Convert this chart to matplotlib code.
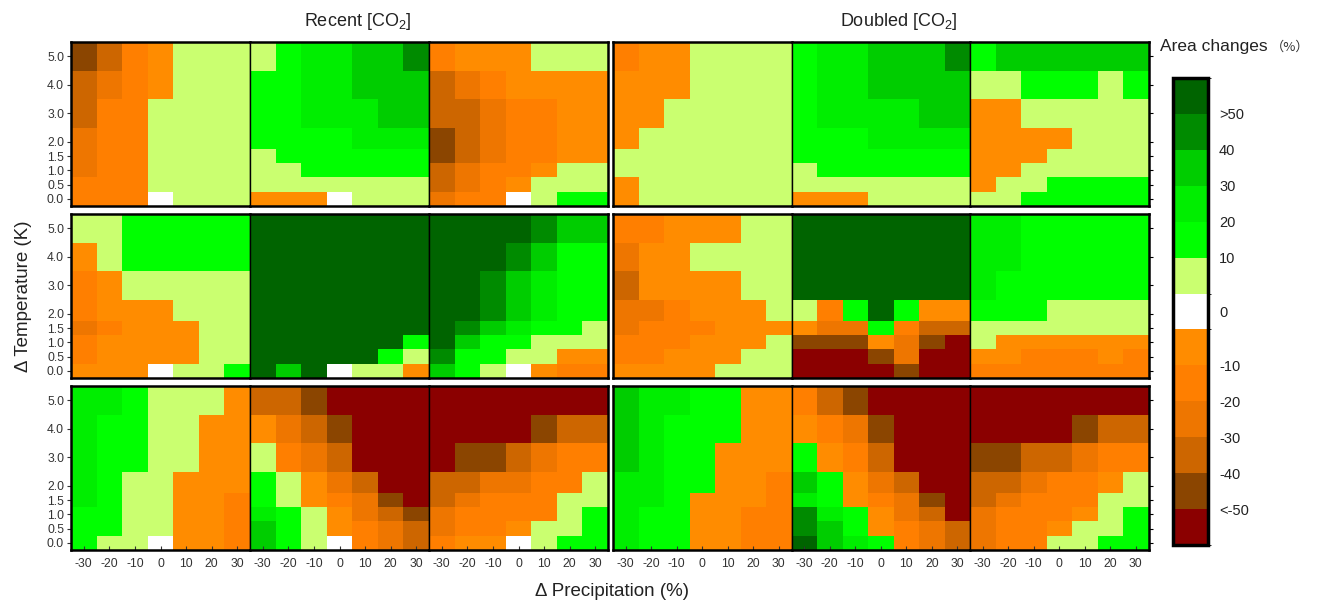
import numpy as np
import matplotlib
matplotlib.use("Agg")
import matplotlib.pyplot as plt
from matplotlib.colors import ListedColormap, BoundaryNorm
from matplotlib.cm import ScalarMappable

plt.rcParams['font.family'] = ['Liberation Sans', 'DejaVu Sans']
plt.rcParams['mathtext.fontset'] = 'custom'
plt.rcParams['mathtext.rm'] = 'Liberation Sans'
plt.rcParams['mathtext.it'] = 'Liberation Sans'

# ---------------- data ----------------
precip = [-30, -20, -10, 0, 10, 20, 30]                 # columns (%)
temps = [5.0, 4.0, 3.0, 2.0, 1.5, 1.0, 0.5, 0.0]        # rows, top -> bottom (K)
temp_ticklabels = ['5.0', '4.0', '3.0', '2.0', '1.5', '1.0', '0.5', '0.0']
precip_ticklabels = ['-30', '-20', '-10', '0', '10', '20', '30']
block_titles = ['Recent [CO$_{2}$]', 'Doubled [CO$_{2}$]']

# colour classes (area change, %)
cbar_bounds = [-100, -50, -40, -30, -20, -10, -0.5, 0.5, 10, 20, 30, 40, 50, 100]
cbar_colors = ['#8B0000', '#8B4500', '#CD6600', '#EE7600', '#FF7F00', '#FF8C00',
               '#FFFFFF',
               '#CAFF70', '#00FF00', '#00EE00', '#00CD00', '#008B00', '#006400']
cbar_ticks = [50, 40, 30, 20, 10, 0, -10, -20, -30, -40, -50]
cbar_ticklabels = ['>50', '40', '30', '20', '10', '0', '-10', '-20', '-30', '-40', '<-50']

# area change per cell (rows top->bottom = temps, cols = precip)
recent_r1_a = [[-45, -35, -15, -5, 5, 5, 5],
               [-35, -25, -15, -5, 5, 5, 5],
               [-35, -15, -15, 5, 5, 5, 5],
               [-25, -15, -15, 5, 5, 5, 5],
               [-25, -15, -15, 5, 5, 5, 5],
               [-25, -15, -15, 5, 5, 5, 5],
               [-15, -15, -15, 5, 5, 5, 5],
               [-15, -15, -15, 0, 5, 5, 5]]
recent_r1_b = [[5, 15, 25, 25, 35, 35, 45],
               [15, 15, 25, 25, 35, 35, 35],
               [15, 15, 25, 25, 25, 35, 35],
               [15, 15, 15, 15, 25, 25, 25],
               [5, 15, 15, 15, 15, 15, 15],
               [5, 5, 15, 15, 15, 15, 15],
               [5, 5, 5, 5, 5, 5, 5],
               [-5, -5, -5, 0, 5, 5, 5]]
recent_r1_c = [[-15, -5, -5, -5, 5, 5, 5],
               [-35, -25, -15, -5, -5, -5, -5],
               [-35, -35, -25, -15, -15, -5, -5],
               [-45, -35, -25, -15, -15, -5, -5],
               [-45, -35, -25, -15, -15, -5, -5],
               [-35, -25, -15, -15, -5, 5, 5],
               [-35, -25, -15, -5, 5, 5, 5],
               [-25, -15, -15, 0, 5, 15, 15]]
doubled_r1_a = [[-15, -5, -5, 5, 5, 5, 5],
                [-5, -5, -5, 5, 5, 5, 5],
                [-5, -5, 5, 5, 5, 5, 5],
                [-5, 5, 5, 5, 5, 5, 5],
                [5, 5, 5, 5, 5, 5, 5],
                [5, 5, 5, 5, 5, 5, 5],
                [-5, 5, 5, 5, 5, 5, 5],
                [-5, 5, 5, 5, 5, 5, 5]]
doubled_r1_b = [[15, 25, 25, 35, 35, 35, 45],
                [15, 25, 25, 35, 35, 35, 35],
                [15, 25, 25, 25, 25, 35, 35],
                [15, 15, 15, 25, 25, 25, 25],
                [15, 15, 15, 15, 15, 15, 15],
                [5, 15, 15, 15, 15, 15, 15],
                [5, 5, 5, 5, 5, 5, 5],
                [-5, -5, -5, 5, 5, 5, 5]]
doubled_r1_c = [[15, 35, 35, 35, 35, 35, 35],
                [5, 5, 15, 15, 15, 5, 15],
                [-5, -5, 5, 5, 5, 5, 5],
                [-5, -5, -5, -5, 5, 5, 5],
                [-5, -5, -5, 5, 5, 5, 5],
                [-5, -5, 5, 5, 5, 5, 5],
                [-5, 5, 5, 15, 15, 15, 15],
                [5, 5, 15, 15, 15, 15, 15]]

recent_r2_a = [[5, 5, 15, 15, 15, 15, 15],
               [-5, 5, 15, 15, 15, 15, 15],
               [-15, -5, 5, 5, 5, 5, 5],
               [-15, -5, -5, -5, 5, 5, 5],
               [-25, -15, -5, -5, -5, 5, 5],
               [-15, -5, -5, -5, -5, 5, 5],
               [-15, -5, -5, -5, -5, 5, 5],
               [-5, -5, -5, 0, 5, 5, 15]]
recent_r2_b = [[60, 60, 60, 60, 60, 60, 60],
               [60, 60, 60, 60, 60, 60, 60],
               [60, 60, 60, 60, 60, 60, 60],
               [60, 60, 60, 60, 60, 60, 60],
               [60, 60, 60, 60, 60, 60, 60],
               [60, 60, 60, 60, 60, 60, 15],
               [60, 60, 60, 60, 60, 15, 5],
               [60, 35, 60, 0, 5, 5, -5]]
recent_r2_c = [[60, 60, 60, 60, 45, 35, 35],
               [60, 60, 60, 45, 35, 15, 15],
               [60, 60, 45, 35, 25, 15, 15],
               [60, 60, 45, 35, 25, 15, 15],
               [60, 45, 35, 25, 15, 15, 5],
               [60, 35, 15, 15, 5, 5, 5],
               [45, 15, 15, 5, 5, -5, -5],
               [35, 15, 5, 0, -5, -15, -15]]
doubled_r2_a = [[-15, -15, -5, -5, -5, 5, 5],
                [-25, -5, -5, 5, 5, 5, 5],
                [-35, -5, -5, -5, -5, 5, 5],
                [-25, -25, -15, -5, -5, -5, 5],
                [-25, -15, -15, -15, -5, -5, -5],
                [-15, -15, -15, -5, -5, -5, 5],
                [-15, -15, -5, -5, -5, 5, 5],
                [-5, -5, -5, -5, 5, 5, 5]]
doubled_r2_b = [[60, 60, 60, 60, 60, 60, 60],
                [60, 60, 60, 60, 60, 60, 60],
                [60, 60, 60, 60, 60, 60, 60],
                [5, -15, 15, 60, 15, -5, -5],
                [-5, -25, -25, 15, -15, -35, -35],
                [-45, -45, -45, -5, -25, -45, -60],
                [-60, -60, -60, -45, -25, -60, -60],
                [-60, -60, -60, -60, -45, -60, -60]]
doubled_r2_c = [[25, 25, 15, 15, 15, 15, 15],
                [25, 25, 15, 15, 15, 15, 15],
                [25, 15, 15, 15, 15, 15, 15],
                [15, 15, 15, 5, 5, 5, 5],
                [5, 5, 5, 5, 5, 5, 5],
                [5, -5, -5, -5, -5, -5, -5],
                [-5, -5, -15, -15, -15, -5, -15],
                [-15, -15, -15, -15, -15, -15, -15]]

recent_r3_a = [[25, 25, 15, 5, 5, 5, -5],
               [25, 15, 15, 5, 5, -5, -5],
               [25, 15, 15, 5, 5, -5, -5],
               [25, 15, 5, 5, -5, -5, -5],
               [25, 15, 5, 5, -5, -5, -15],
               [15, 15, 5, 5, -5, -5, -15],
               [15, 15, 5, 5, -5, -5, -15],
               [15, 5, 5, 0, -5, -5, -15]]
recent_r3_b = [[-35, -35, -45, -60, -60, -60, -60],
               [-5, -25, -35, -45, -60, -60, -60],
               [5, -15, -25, -35, -60, -60, -60],
               [15, 5, -5, -25, -35, -60, -60],
               [15, 5, -5, -15, -25, -45, -60],
               [25, 15, 5, -5, -25, -35, -45],
               [35, 15, 5, -5, -15, -25, -35],
               [35, 15, 5, 0, -15, -25, -35]]
recent_r3_c = [[-60, -60, -60, -60, -60, -60, -60],
               [-60, -60, -60, -60, -45, -35, -35],
               [-60, -45, -45, -35, -25, -15, -15],
               [-35, -35, -25, -25, -15, -15, 5],
               [-35, -25, -15, -15, -15, 5, 5],
               [-25, -15, -15, -15, -15, 5, 15],
               [-25, -15, -15, -5, 5, 5, 15],
               [-15, -5, -5, 0, 5, 15, 15]]
doubled_r3_a = [[35, 25, 25, 15, 15, -5, -5],
                [35, 25, 15, 15, 15, -5, -5],
                [35, 25, 15, 15, -5, -5, -5],
                [25, 25, 15, 15, -5, -5, -15],
                [25, 25, 15, -5, -5, -5, -15],
                [25, 15, 15, -5, -5, -15, -15],
                [25, 15, 15, -5, -5, -15, -15],
                [25, 15, 15, -5, -5, -15, -15]]
doubled_r3_b = [[-15, -35, -45, -60, -60, -60, -60],
                [-5, -15, -25, -45, -60, -60, -60],
                [15, -5, -15, -35, -60, -60, -60],
                [35, 15, -5, -25, -35, -60, -60],
                [25, 15, -5, -15, -25, -45, -60],
                [45, 25, 15, -5, -25, -35, -60],
                [45, 35, 15, -5, -15, -25, -35],
                [60, 35, 25, 15, -15, -25, -35]]
doubled_r3_c = [[-60, -60, -60, -60, -60, -60, -60],
                [-60, -60, -60, -60, -45, -35, -35],
                [-45, -45, -35, -35, -25, -15, -15],
                [-35, -35, -25, -15, -15, -5, 5],
                [-35, -25, -15, -15, -15, 5, 5],
                [-25, -15, -15, -15, -5, 5, 15],
                [-25, -15, -15, -5, 5, 5, 15],
                [-25, -15, -15, 5, 5, 15, 15]]

panels = [[recent_r1_a, recent_r1_b, recent_r1_c, doubled_r1_a, doubled_r1_b, doubled_r1_c],
          [recent_r2_a, recent_r2_b, recent_r2_c, doubled_r2_a, doubled_r2_b, doubled_r2_c],
          [recent_r3_a, recent_r3_b, recent_r3_c, doubled_r3_a, doubled_r3_b, doubled_r3_c]]

# ---------------- figure ----------------
W, H = 1320, 604
fig = plt.figure(figsize=(W / 100, H / 100), dpi=100)
cmap = ListedColormap(cbar_colors)
norm = BoundaryNorm(cbar_bounds, cmap.N)

# cell edges from the data grids
p = np.array(precip, dtype=float)
x_edges = np.concatenate([[p[0] - (p[1] - p[0]) / 2], (p[:-1] + p[1:]) / 2, [p[-1] + (p[-1] - p[-2]) / 2]])
t = np.array(temps[::-1], dtype=float)
y_edges = np.concatenate([[t[0] - (t[1] - t[0]) / 2], (t[:-1] + t[1:]) / 2, [t[-1] + (t[-1] - t[-2]) / 2]])

col_x = [71, 250, 429, 613, 791.5, 970]
col_w = [179, 179, 179, 178.5, 178.5, 178.5]
row_top = [42, 214, 386]
row_h = 164
tick_col = '#333333'

for r in range(3):
    for c in range(6):
        x0, w = col_x[c], col_w[c]
        ax = fig.add_axes([x0 / W, 1 - (row_top[r] + row_h) / H, w / W, row_h / H])
        Z = np.array(panels[r][c], dtype=float)[::-1]
        ax.pcolormesh(x_edges, y_edges, Z, cmap=cmap, norm=norm, shading='flat')
        ax.set_xlim(x_edges[0], x_edges[-1])
        ax.set_ylim(y_edges[0], y_edges[-1])
        j = c % 3
        for side in ['top', 'bottom']:
            ax.spines[side].set_linewidth(1.8)
        ax.spines['left'].set_linewidth(1.8 if j == 0 else 1.0)
        ax.spines['right'].set_linewidth(1.8 if j == 2 else 1.0)
        # x ticks
        if r == 2:
            ax.set_xticks(precip)
            ax.set_xticklabels(precip_ticklabels)
            ax.tick_params(axis='x', direction='in', length=3, width=0.8, pad=6,
                           labelsize=8.7, colors=tick_col)
        else:
            ax.set_xticks([])
        # y ticks
        ax.set_yticks(temps)
        if c == 0:
            ax.set_yticklabels(temp_ticklabels)
            ax.tick_params(axis='y', direction='out', length=3, width=0.8, pad=2,
                           labelsize=8.7, colors=tick_col)
        elif c == 5:
            ax.yaxis.tick_right()
            ax.set_yticklabels([])
            ax.tick_params(axis='y', direction='out', length=3, width=0.8)
        else:
            ax.set_yticks([])

# block titles
fig.text((col_x[1] + col_w[1] / 2 + 18) / W, 1 - 21 / H, block_titles[0],
         ha='center', va='center', fontsize=13, color='#222222')
fig.text((col_x[4] + col_w[4] / 2 + 18) / W, 1 - 21 / H, block_titles[1],
         ha='center', va='center', fontsize=13, color='#222222')

# axis labels
fig.text(24 / W, 1 - 296 / H, 'Δ Temperature (K)', rotation=90, ha='center', va='center',
         fontsize=13.5, color='#222222')
fig.text(612 / W, 1 - 591 / H, 'Δ Precipitation (%)', ha='center', va='center',
         fontsize=13.5, color='#222222')

# colour bar
cax = fig.add_axes([1173 / W, 1 - 545 / H, 35 / W, 467 / H])
cb = fig.colorbar(ScalarMappable(norm=norm, cmap=cmap), cax=cax, spacing='uniform',
                  ticks=cbar_ticks)
cb.set_ticklabels(cbar_ticklabels)
cb.outline.set_linewidth(2.5)
cax.tick_params(length=0, pad=8, labelsize=10.5, colors='#222222')
fig.text(1160 / W, 1 - 47 / H, 'Area changes', ha='left', va='center', fontsize=12.5,
         color='#222222')
fig.text(1271 / W, 1 - 47 / H, '（%）', ha='left', va='center', fontsize=9.5,
         color='#333333', family=['Noto Sans CJK SC', 'DejaVu Sans'])

fig.savefig('out.png', dpi=100, facecolor='white')
